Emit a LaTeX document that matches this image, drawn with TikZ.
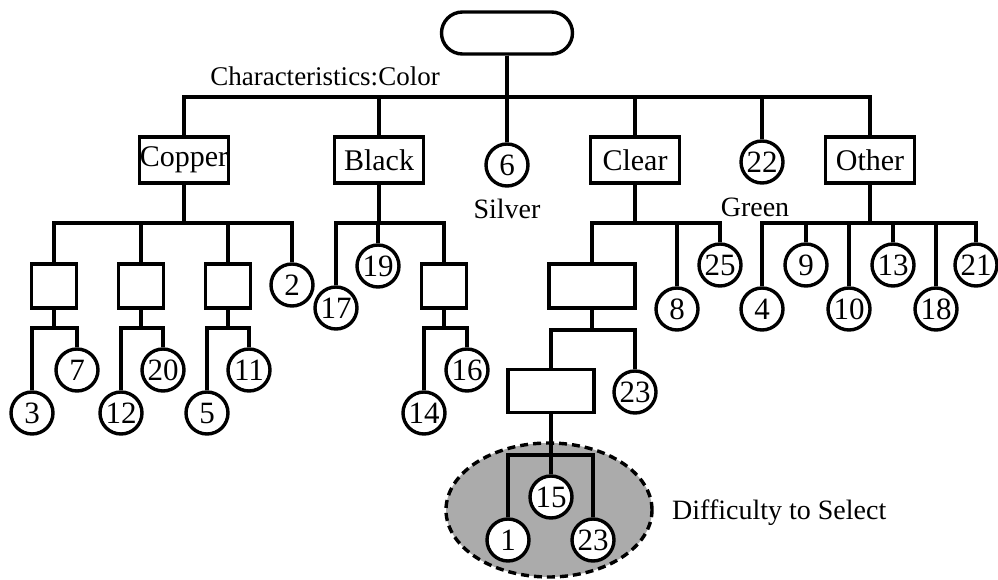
\documentclass[tikz,border=0pt]{standalone}
\usepackage{fontspec}
\setmainfont{Liberation Serif}
\begin{document}
\begin{tikzpicture}[x=1pt,y=-1pt,
  every node/.style={font=\fontsize{28}{30}\selectfont},
  lw/.style={line width=3.4pt},
  catbox/.style={lw,draw,rectangle,minimum width=89pt,minimum height=46pt,inner sep=0pt,
    font=\fontsize{30}{32}\selectfont},
  sqbox/.style={lw,draw,rectangle,minimum width=45pt,minimum height=44pt,inner sep=0pt},
  widebox/.style={lw,draw,rectangle,minimum width=86pt,minimum height=44pt,inner sep=0pt},
  num/.style={lw,draw,circle,fill=white,minimum size=42pt,inner sep=0pt,
    font=\fontsize{31}{32}\selectfont},
  conn/.style={lw,line join=miter},
  lbl/.style={inner sep=0pt}]
% canvas
\fill[white] (0,0) rectangle (998,580);
\useasboundingbox (0,0) rectangle (998,580);

% shaded group of hard-to-select items
\draw[lw,dashed,dash pattern=on 8pt off 5pt,fill=black!33] (549,510) ellipse [x radius=103pt,y radius=67pt];

% root and first level
\node[lw,draw,rectangle,rounded corners=21pt,minimum width=131pt,minimum height=42pt] (root) at (507,33) {};
\node[lbl,font=\fontsize{27}{30}\selectfont] (charlbl) at (325,76) {Characteristics:Color};
\node[catbox] (copper) at (184,160) {Copper};
\node[catbox] (black) at (379,160) {Black};
\node[num] (n6) at (507,165) {6};
\node[catbox] (clear) at (635,160) {Clear};
\node[num] (n22) at (762,162) {22};
\node[catbox] (other) at (870,160) {Other};
\node[lbl] (silver) at (507,209) {Silver};
\node[lbl] (green) at (755,207) {Green};

% bus heights
\coordinate (busR) at (0,97);
\coordinate (busA) at (0,223);
\coordinate (busB) at (0,328);
\coordinate (busC) at (0,330);
\coordinate (busD) at (0,455);

% Copper branch
\node[sqbox] (c1) at (54,286) {};
\node[sqbox] (c2) at (141,286) {};
\node[sqbox] (c3) at (228,286) {};
\node[num] (n2) at (292,285) {2};
\node[num] (n3) at (32,413) {3};
\node[num] (n7) at (77,370) {7};
\node[num] (n12) at (121,413) {12};
\node[num] (n20) at (163,370) {20};
\node[num] (n5) at (207,413) {5};
\node[num] (n11) at (249,370) {11};

% Black branch
\node[num] (n17) at (336,308) {17};
\node[num] (n19) at (378,266) {19};
\node[sqbox] (b1) at (444,286) {};
\node[num] (n14) at (424,413) {14};
\node[num] (n16) at (467,370) {16};

% Clear branch
\node[widebox] (w1) at (592,286) {};
\node[num] (n8) at (677,309) {8};
\node[num] (n25) at (720,265) {25};
\node[widebox,minimum height=43pt] (w2) at (551,391) {};
\node[num] (n23a) at (635,392) {23};

% Other branch
\node[num] (n4) at (762,309) {4};
\node[num] (n9) at (806,265) {9};
\node[num] (n10) at (849,309) {10};
\node[num] (n13) at (893,265) {13};
\node[num] (n18) at (936,309) {18};
\node[num] (n21) at (976,265) {21};

% connectors
\foreach \c in {copper,black,n6,clear,n22,other}
  \draw[conn] (root.south) -- (root.south |- busR) -| (\c.north);
\foreach \c in {c1,c2,c3,n2}
  \draw[conn] (copper.south) -- (copper.south |- busA) -| (\c.north);
\foreach \c in {n17,n19,b1}
  \draw[conn] (black.south) -- (black.south |- busA) -| (\c.north);
\foreach \c in {w1,n8,n25}
  \draw[conn] (clear.south) -- (clear.south |- busA) -| (\c.north);
\foreach \c in {n4,n9,n10,n13,n18,n21}
  \draw[conn] (other.south) -- (other.south |- busA) -| (\c.north);
\foreach \p/\a/\b in {c1/n3/n7,c2/n12/n20,c3/n5/n11,b1/n14/n16}{
  \draw[conn] (\p.south) -- (\p.south |- busB) -| (\a.north);
  \draw[conn] (\p.south) -- (\p.south |- busB) -| (\b.north);
}
\foreach \c in {w2,n23a}
  \draw[conn] (w1.south) -- (w1.south |- busC) -| (\c.north);

% children inside the shaded group
\node[num] (n1) at (508,540) {1};
\node[num] (n15) at (551,497) {15};
\node[num] (n23b) at (593,540) {23};
\foreach \c in {n1,n15,n23b}
  \draw[conn] (w2.south) -- (w2.south |- busD) -| (\c.north);

\node[lbl,anchor=west] (difflbl) at (672,513) {Difficulty to Select};
\end{tikzpicture}
\end{document}
